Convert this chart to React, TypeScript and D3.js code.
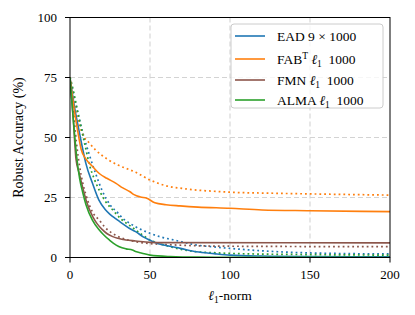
import React from "react";
import * as d3 from "d3";

const xTicks = [0, 50, 100, 150, 200];
const yTicks = [0, 25, 50, 75, 100];

// EAD (blue)
const eadSolidX = [0, 3, 5, 8, 10, 14, 18, 22, 25, 29, 33, 37, 41, 46, 50, 54, 60, 69, 79, 90, 100, 120, 150, 200];
const eadSolidY = [75, 62, 55, 45, 39, 31, 24, 20, 18, 16, 14, 12.2, 10.8, 8.5, 7.2, 6, 5, 3.8, 2.4, 1.6, 1.0, 0.6, 0.4, 0.3];
const eadDotX = [0, 4, 8, 12, 16, 20, 25, 30, 33, 37.5, 41, 50, 57, 65, 79, 90, 100, 115, 130, 150, 175, 200];
const eadDotY = [75, 63, 52, 43, 35, 28, 22, 18.5, 16.3, 14.2, 12.8, 10.1, 8.5, 7.3, 5.2, 4.4, 3.8, 3, 2.4, 1.9, 1.6, 1.5];

// FAB (orange)
const fabSolidX = [0, 3, 5, 7, 10, 14, 18.3, 23, 28.75, 33, 37.5, 40, 44, 48, 53, 60, 68.75, 80, 100, 120, 150, 200];
const fabSolidY = [75, 60, 52, 45, 41, 38, 35, 33, 30.9, 29, 27.4, 26.2, 25.2, 24.7, 22.8, 22, 21.5, 21, 20.5, 19.8, 19.5, 19.1];
const fabDotX = [0, 3, 6, 9, 11, 16, 23.5, 30, 37.5, 41, 50, 62.5, 70, 79, 90, 100, 125, 150, 200];
const fabDotY = [75, 63, 55, 50, 48.5, 44.8, 40.9, 38.5, 36.5, 35.5, 32.3, 29.5, 28.8, 28.1, 27.6, 27.2, 26.8, 26.5, 26];

// FMN (brown)
const fmnSolidX = [0, 2, 3.75, 5.8, 8, 10, 14.2, 17, 20.4, 23, 26.7, 30, 35, 41, 50, 60, 200];
const fmnSolidY = [75, 58, 41, 35, 29, 24, 17, 14, 11.5, 10, 8.7, 8, 7.3, 6.9, 6.3, 6.2, 6.1];
const fmnDotX = [0, 2, 4, 6, 8, 10, 14, 18.3, 22, 26, 30, 35, 41, 50, 60, 79, 100, 200];
const fmnDotY = [75, 62, 48, 38, 31, 26, 19, 15.6, 12.5, 10.3, 8.8, 7.5, 6.6, 5.8, 5.4, 4.9, 4.7, 4.5];

// ALMA (green)
const almaSolidX = [0, 2, 4, 6, 8, 10, 14, 18.3, 21, 24.6, 27, 30.8, 35, 39, 41, 45, 50, 62.5, 80, 100, 200];
const almaSolidY = [75, 58, 43, 33, 27, 22, 15.6, 11.5, 9.5, 7.3, 6, 4.5, 3.6, 3.1, 2.5, 1.8, 1.0, 0.4, 0.15, 0.1, 0];
const almaDotX = [0, 1, 5, 10, 12, 15, 18.3, 22, 26.7, 32, 39, 45, 50, 56, 62.5, 70, 79, 90, 100, 150, 200];
const almaDotY = [75, 72.6, 60, 45, 39, 33, 28, 23.5, 19.8, 16, 12.5, 9.5, 7.3, 5.8, 4.5, 3.3, 2.4, 2, 1.7, 1.2, 1.0];

const colors = ["#1f77b4", "#ff7f0e", "#8c564b", "#2ca02c"];

const W = 415, H = 315;
const left = 70, right = 390, top = 17.5, bottom = 257.5;
const FONT = "'Liberation Serif', 'DejaVu Serif', serif";

function zip(xs: number[], ys: number[]): [number, number][] {
  return xs.map((x, i) => [x, ys[i]]);
}

export default function App() {
  const x = d3.scaleLinear().domain([0, 200]).range([left, right]);
  const y = d3.scaleLinear().domain([0, 100]).range([bottom, top]);
  const line = d3
    .line<[number, number]>()
    .x((d) => x(d[0]))
    .y((d) => y(d[1]))
    .curve(d3.curveMonotoneX);

  const solids = [
    zip(eadSolidX, eadSolidY),
    zip(fabSolidX, fabSolidY),
    zip(fmnSolidX, fmnSolidY),
    zip(almaSolidX, almaSolidY),
  ];
  const dots = [
    zip(eadDotX, eadDotY),
    zip(fabDotX, fabDotY),
    zip(fmnDotX, fmnDotY),
    zip(almaDotX, almaDotY),
  ];

  const legendYs = [36, 59, 80, 100];
  const sub = (t: string) => (
    <tspan fontSize={9.5} dy={3}>{t}</tspan>
  );

  return (
    <svg width={W} height={H} style={{ position: "absolute", left: 0, top: 0, background: "#fff" }} fontFamily={FONT}>
      <rect x={0} y={0} width={W} height={H} fill="#fff" />
      <defs>
        <clipPath id="plotclip">
          <rect x={left} y={top} width={right - left} height={bottom - top} />
        </clipPath>
      </defs>
      {/* grid */}
      {xTicks.filter((t) => t > 0 && t < 200).map((t) => (
        <line key={"gx" + t} x1={x(t)} x2={x(t)} y1={top} y2={bottom} stroke="#d3d3d3" strokeWidth={1.1} strokeDasharray="5,3" />
      ))}
      {yTicks.filter((t) => t > 0 && t < 100).map((t) => (
        <line key={"gy" + t} x1={left} x2={right} y1={y(t)} y2={y(t)} stroke="#d3d3d3" strokeWidth={1.1} strokeDasharray="5,3" />
      ))}
      {/* curves */}
      <g clipPath="url(#plotclip)">
        {dots.map((d, i) => (
          <path key={"d" + i} d={line(d) || ""} fill="none" stroke={colors[i]} strokeWidth={1.7} strokeDasharray="1.8,3" />
        ))}
        {solids.map((d, i) => (
          <path key={"s" + i} d={line(d) || ""} fill="none" stroke={colors[i]} strokeWidth={1.6} />
        ))}
      </g>
      {/* frame */}
      <rect x={left} y={top} width={right - left} height={bottom - top} fill="none" stroke="#000" strokeWidth={1} />
      {/* x ticks */}
      {xTicks.map((t) => (
        <g key={"xt" + t}>
          <line x1={x(t)} x2={x(t)} y1={bottom} y2={bottom + 5} stroke="#000" strokeWidth={1} />
          <text x={x(t)} y={279} textAnchor="middle" fontSize={13}>{t}</text>
        </g>
      ))}
      {/* y ticks */}
      {yTicks.map((t) => (
        <g key={"yt" + t}>
          <line x1={left - 5} x2={left} y1={y(t)} y2={y(t)} stroke="#000" strokeWidth={1} />
          <text x={57} y={y(t) + 4.3} textAnchor="end" fontSize={13}>{t}</text>
        </g>
      ))}
      {/* axis labels */}
      <text x={(left + right) / 2} y={300} textAnchor="middle" fontSize={13.5}>
        <tspan fontStyle="italic">ℓ</tspan>
        {sub("1")}
        <tspan dy={-3}>-norm</tspan>
      </text>
      <text transform={`translate(23,${(top + bottom) / 2}) rotate(-90)`} textAnchor="middle" fontSize={14}>
        Robust Accuracy (%)
      </text>
      {/* legend */}
      <rect x={231} y={24} width={152} height={84} rx={3} fill="#fff" fillOpacity={0.8} stroke="#cccccc" strokeWidth={1} />
      {legendYs.map((ly, i) => (
        <line key={"ll" + i} x1={235} x2={265} y1={ly} y2={ly} stroke={colors[i]} strokeWidth={1.6} />
      ))}
      <text x={277} y={legendYs[0] + 4.5} fontSize={13.5}>EAD 9 × 1000</text>
      <text x={277} y={legendYs[1] + 4.5} fontSize={13.5}>
        FAB<tspan fontSize={9.5} dy={-5}>T</tspan>
        <tspan dy={5}>{"\u00a0"}</tspan>
        <tspan fontStyle="italic">ℓ</tspan>
        {sub("1")}
        <tspan dy={-3}>{"\u00a0\u00a01000"}</tspan>
      </text>
      <text x={277} y={legendYs[2] + 4.5} fontSize={13.5}>
        FMN <tspan fontStyle="italic">ℓ</tspan>
        {sub("1")}
        <tspan dy={-3}>{"\u00a0\u00a01000"}</tspan>
      </text>
      <text x={277} y={legendYs[3] + 4.5} fontSize={13.5}>
        ALMA <tspan fontStyle="italic">ℓ</tspan>
        {sub("1")}
        <tspan dy={-3}>{"\u00a0\u00a01000"}</tspan>
      </text>
    </svg>
  );
}
